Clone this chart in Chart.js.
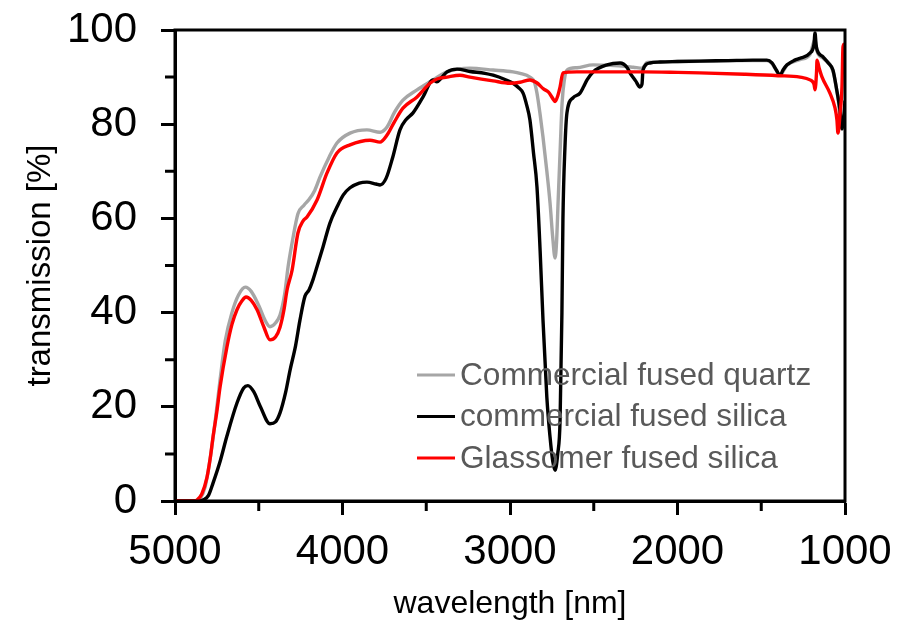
<!DOCTYPE html>
<html>
<head>
<meta charset="utf-8">
<script src="https://cdn.jsdelivr.net/npm/chart.js@4.4.1/dist/chart.umd.min.js"></script>
<style>
    body { margin: 0; background: #ffffff; }
</style>
</head>
<body>
<canvas id="graficoTransmissao" width="910" height="620"></canvas>
<script>
// legend names, same order as in the picture
const seriesNames = ['Commercial fused quartz', 'commercial fused silica', 'Glassomer fused silica'];

// x ticks / y ticks
const xTickLabels = [5000, 4000, 3000, 2000, 1000];
const yTickLabels = [0, 20, 40, 60, 80, 100];

// commercial fused quartz (grey)
const quartzWavelength = [5000, 4880, 4850, 4820, 4790, 4760, 4730, 4700, 4660, 4620, 4580, 4545, 4500, 4460, 4433, 4400, 4373, 4345, 4325, 4300, 4266, 4230, 4200, 4165, 4134, 4080, 4033, 3955, 3854, 3776, 3734, 3690, 3639, 3555, 3478, 3376, 3239, 3101, 2982, 2940, 2881, 2855, 2839, 2820, 2803, 2780, 2761, 2745, 2731, 2722, 2713, 2700, 2689, 2675, 2660, 2600, 2504, 2400, 2264, 2210, 2182, 2100, 2000, 1800, 1600, 1466, 1436, 1388, 1346, 1269, 1209, 1179, 1167, 1131, 1072, 1042, 1018, 1000];
const quartzValues = [0, 0, 0.5, 3, 9, 17, 26, 34, 40, 43.8, 45.4, 44.5, 41.5, 38.2, 37, 37.8, 39.5, 44, 49.7, 55, 61, 62.8, 64, 66, 68.8, 73, 76, 78.1, 78.8, 78.3, 79.4, 82.5, 85.1, 87.3, 89, 91.1, 91.9, 91.5, 91.1, 90.8, 90, 89, 86.6, 82, 77.3, 70, 63.3, 56, 51.6, 55, 63.3, 75, 84.5, 89.5, 91.5, 92, 92.6, 92.5, 92.1, 91.9, 93.1, 93.2, 93.3, 93.4, 93.5, 93.5, 92.9, 90.5, 92.5, 93.7, 94.8, 98, 95.5, 94, 91.3, 85.5, 79, 84];

// commercial fused silica (black)
const silicaWavelength = [5000, 4850, 4833, 4800, 4773, 4730, 4690, 4630, 4590, 4565, 4530, 4490, 4433, 4400, 4373, 4340, 4313, 4280, 4254, 4224, 4200, 4176, 4150, 4116, 4075, 4033, 3995, 3955, 3900, 3854, 3800, 3776, 3740, 3700, 3657, 3620, 3579, 3519, 3460, 3436, 3410, 3376, 3316, 3239, 3150, 3101, 3030, 2982, 2950, 2922, 2900, 2881, 2860, 2839, 2820, 2803, 2780, 2761, 2745, 2731, 2715, 2701, 2690, 2684, 2672, 2660, 2624, 2582, 2560, 2540, 2504, 2421, 2343, 2300, 2284, 2250, 2224, 2212, 2206, 2164, 2104, 2000, 1866, 1700, 1550, 1466, 1436, 1410, 1388, 1370, 1346, 1300, 1269, 1209, 1185, 1179, 1173, 1167, 1131, 1100, 1072, 1048, 1042, 1030, 1018, 1008, 1000];
const silicaValues = [0, 0, 0.2, 1.2, 3.8, 8.5, 13.8, 20.8, 24, 24.5, 23.2, 20, 16.4, 16.8, 18.7, 23, 27.8, 33, 38.4, 43.5, 44.8, 47, 50, 54, 59, 62.4, 65, 66.5, 67.5, 67.7, 67.3, 67.1, 68.5, 73, 78.8, 81, 82.4, 85.8, 89.4, 89, 89.8, 91.1, 91.7, 91.2, 90.8, 90.4, 89.5, 88.7, 87.8, 86.6, 84, 80.9, 74, 66.7, 53, 38.4, 22, 13.6, 8.5, 6.5, 10, 17.2, 40, 59.7, 75, 82.4, 85.6, 86.6, 88, 89.4, 91.1, 92.6, 93, 92, 90.9, 89.2, 87.9, 88.5, 91.5, 93, 93.2, 93.3, 93.4, 93.5, 93.6, 93.6, 93, 91.5, 90.4, 91.5, 92.6, 93.6, 94, 95.1, 97, 99.4, 97, 95.8, 94.3, 93, 91.5, 87, 85.8, 83, 79, 81, 85];

// Glassomer fused silica (red)
const glassomerWavelength = [5000, 4880, 4869, 4840, 4809, 4790, 4773, 4750, 4731, 4690, 4660, 4630, 4600, 4576, 4545, 4510, 4470, 4433, 4400, 4373, 4350, 4331, 4301, 4266, 4235, 4212, 4152, 4093, 4033, 3955, 3836, 3776, 3734, 3690, 3639, 3555, 3478, 3436, 3376, 3299, 3239, 3101, 3000, 2940, 2881, 2840, 2800, 2770, 2740, 2731, 2715, 2701, 2684, 2600, 2400, 2200, 2000, 1866, 1600, 1400, 1269, 1209, 1185, 1179, 1170, 1167, 1155, 1137, 1090, 1060, 1048, 1042, 1030, 1018, 1012, 1005, 1000];
const glassomerValues = [0, 0, 0.2, 1.5, 5, 9, 13.6, 19, 24.2, 32.7, 37.5, 40.6, 42.5, 43.3, 42.6, 40.6, 37, 34.2, 34.8, 36.9, 40.5, 44.8, 49, 56.9, 59.5, 60.3, 63.9, 69.6, 73.9, 75.6, 76.6, 76.2, 77.7, 80.5, 83.4, 85.8, 88.7, 89.6, 90, 90.4, 90, 89.2, 88.7, 88.9, 89.4, 88.8, 87.5, 86.8, 85.2, 84.8, 86, 87.9, 90.9, 91.1, 91.1, 91.1, 91, 90.9, 90.6, 90.3, 90, 89.4, 88.5, 87.3, 91, 93.6, 92, 90, 86.6, 83.5, 80.9, 78.1, 82, 88, 96.4, 97, 97];

const seriesColors = ['#a6a6a6', '#000000', '#ff0000'];

function toPoints(xs, ys) {
    return xs.map((x, i) => ({ x: x, y: ys[i] }));
}

const fonte = '"Liberation Sans", Arial, Helvetica, sans-serif';

// legend drawn inside the plot, plus the full frame and the short minor ticks
const legendaInterna = {
    id: 'legendaInterna',
    afterDraw(chart) {
        const ctx = chart.ctx;
        const area = chart.chartArea;
        const xScale = chart.scales.x;
        const yScale = chart.scales.y;

        ctx.save();
        ctx.strokeStyle = '#000000';
        ctx.lineWidth = 3;
        ctx.strokeRect(area.left, area.top, area.right - area.left, area.bottom - area.top);

        // minor ticks
        ctx.beginPath();
        for (let v = 10; v < 100; v += 20) {
            const py = yScale.getPixelForValue(v);
            ctx.moveTo(area.left - 10, py);
            ctx.lineTo(area.left, py);
        }
        for (let v = 1500; v < 5000; v += 1000) {
            const px = xScale.getPixelForValue(v);
            ctx.moveTo(px, area.bottom);
            ctx.lineTo(px, area.bottom + 10);
        }
        ctx.stroke();

        ctx.font = '31.6px ' + fonte;
        ctx.textBaseline = 'middle';
        ctx.textAlign = 'left';
        chart.data.datasets.forEach((ds, i) => {
            const y = area.top + 345 + i * 41.5;
            ctx.strokeStyle = ds.borderColor;
            ctx.lineWidth = 3;
            ctx.beginPath();
            ctx.moveTo(area.left + 242, y);
            ctx.lineTo(area.left + 280, y);
            ctx.stroke();
            ctx.fillStyle = '#595959';
            ctx.fillText(ds.label, area.left + 285, y + 1);
        });
        ctx.restore();
    }
};

const datasets = [
    { label: seriesNames[0], data: toPoints(quartzWavelength, quartzValues), borderColor: seriesColors[0], order: 3 },
    { label: seriesNames[1], data: toPoints(silicaWavelength, silicaValues), borderColor: seriesColors[1], order: 2 },
    { label: seriesNames[2], data: toPoints(glassomerWavelength, glassomerValues), borderColor: seriesColors[2], order: 1 }
];
datasets.forEach(ds => {
    ds.borderWidth = 3.4;
    ds.pointRadius = 0;
    ds.fill = false;
    ds.cubicInterpolationMode = 'monotone';
});

new Chart(document.getElementById('graficoTransmissao').getContext('2d'), {
    type: 'line',
    data: { datasets: datasets },
    options: {
        responsive: false,
        animation: false,
        layout: { padding: { top: 30, right: 65, left: 0, bottom: 0 } },
        plugins: {
            legend: { display: false },
            tooltip: { enabled: false }
        },
        scales: {
            x: {
                type: 'linear',
                reverse: true,
                min: 1000,
                max: 5000,
                afterFit: function (scale) {
                    scale.height = 119;
                    scale.paddingLeft = 0;
                    scale.paddingRight = 0;
                },
                afterBuildTicks: function (scale) {
                    scale.ticks = xTickLabels.map(v => ({ value: v }));
                },
                ticks: {
                    autoSkip: false,
                    maxRotation: 0,
                    padding: 12,
                    color: '#000000',
                    font: { family: fonte, size: 42 },
                    callback: function (value) { return String(value); }
                },
                grid: {
                    drawOnChartArea: false,
                    tickLength: 14,
                    tickWidth: 3,
                    tickColor: '#000000'
                },
                border: { display: true, width: 3, color: '#000000' },
                title: {
                    display: true,
                    text: 'wavelength [nm]',
                    color: '#000000',
                    font: { family: fonte, size: 32, lineHeight: 1 },
                    padding: { top: 0, bottom: 0 }
                }
            },
            y: {
                min: 0,
                max: 100,
                afterFit: function (scale) {
                    scale.width = 175;
                    scale.paddingTop = 0;
                    scale.paddingBottom = 0;
                },
                afterBuildTicks: function (scale) {
                    scale.ticks = yTickLabels.map(v => ({ value: v }));
                },
                ticks: {
                    padding: 24,
                    color: '#000000',
                    font: { family: fonte, size: 42 },
                    callback: function (value) { return String(value); }
                },
                grid: {
                    drawOnChartArea: false,
                    tickLength: 14,
                    tickWidth: 3,
                    tickColor: '#000000'
                },
                border: { display: true, width: 3, color: '#000000' },
                title: {
                    display: true,
                    text: 'transmission [%]',
                    color: '#000000',
                    font: { family: fonte, size: 33, lineHeight: 1 },
                    padding: { top: 24, bottom: 0 }
                }
            }
        }
    },
    plugins: [legendaInterna]
});
</script>
</body>
</html>
